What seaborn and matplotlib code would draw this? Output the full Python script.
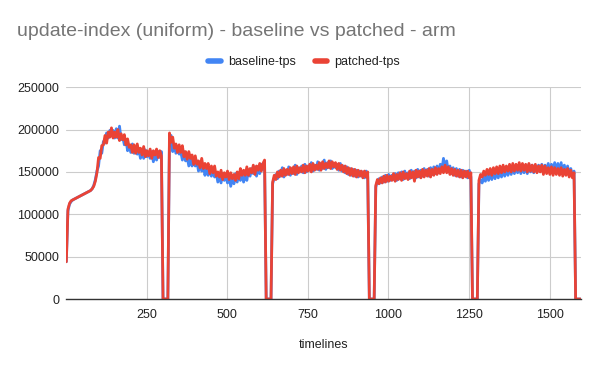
import numpy as np
import pandas as pd
import matplotlib
matplotlib.use("Agg")
import matplotlib.pyplot as plt
import seaborn as sns

timelines = list(range(1, 1600, 5))  # 320 samples

baseline_k = [
    # run 1
    44, 104, 112, 115, 117, 118, 119, 120, 121, 122,
    123, 124, 125, 126, 127, 128, 130, 134, 141, 151,
    157, 175, 172, 186, 184, 196, 190, 199, 194, 199,
    190, 201, 190, 204, 188, 191, 182, 188, 175, 181,
    173, 183, 172, 179, 171, 176, 166, 174, 166, 176,
    168, 173, 166, 174, 162, 171, 164, 174, 167, 174,
    0, 0, 0, 0,
    # run 2
    190, 193, 174, 181, 172, 180, 171, 174, 164, 174,
    163, 167, 157, 167, 157, 163, 157, 163, 151, 159,
    151, 158, 146, 153, 146, 155, 145, 152, 144, 149,
    138, 146, 137, 148, 140, 145, 137, 145, 133, 142,
    136, 148, 138, 147, 140, 147, 138, 148, 140, 152,
    145, 154, 148, 156, 145, 154, 148, 159, 153, 161,
    0, 0, 0, 0,
    # run 3
    136, 143, 147, 142, 151, 145, 155, 144, 152, 147,
    156, 146, 154, 148, 158, 147, 155, 150, 157, 149,
    159, 150, 157, 152, 161, 151, 158, 153, 162, 152,
    160, 154, 164, 153, 161, 155, 163, 154, 160, 155,
    159, 152, 160, 151, 157, 149, 156, 147, 154, 146,
    153, 145, 152, 144, 151, 145, 150, 143, 151, 144,
    0, 0, 0, 0,
    # run 4
    132, 139, 142, 137, 144, 138, 146, 139, 147, 140,
    146, 141, 148, 140, 149, 142, 150, 141, 151, 143,
    149, 142, 152, 144, 151, 143, 153, 144, 152, 145,
    154, 146, 153, 145, 155, 147, 156, 148, 157, 149,
    159, 152, 166, 155, 163, 150, 157, 148, 155, 146,
    154, 145, 153, 144, 152, 145, 151, 143, 152, 144,
    0, 0, 0, 0,
    # run 5
    136, 141, 137, 145, 139, 147, 140, 148, 141, 150,
    142, 151, 143, 152, 144, 153, 145, 154, 146, 155,
    147, 156, 148, 157, 149, 158, 148, 157, 149, 158,
    148, 159, 150, 158, 149, 157, 150, 158, 151, 159,
    150, 158, 151, 160, 150, 159, 152, 161, 151, 160,
    149, 161, 148, 158, 147, 157, 146, 154, 145, 151,
    0, 0, 0, 0,
]

patched_k = [
    # run 1
    44, 106, 113, 116, 117, 118, 119, 120, 121, 122,
    123, 124, 125, 126, 127, 128, 130, 133, 139, 149,
    167, 166, 181, 182, 193, 184, 197, 191, 202, 190,
    197, 191, 200, 187, 195, 188, 194, 182, 189, 179,
    182, 173, 182, 172, 183, 173, 178, 170, 180, 168,
    175, 169, 177, 166, 175, 170, 177, 167, 175, 169,
    0, 0, 0, 0,
    # run 2
    196, 185, 191, 178, 183, 173, 182, 173, 181, 168,
    174, 165, 174, 166, 170, 159, 169, 159, 163, 155,
    166, 154, 160, 154, 160, 148, 157, 149, 157, 145,
    150, 144, 152, 141, 149, 144, 151, 141, 149, 142,
    147, 140, 150, 142, 154, 146, 152, 146, 156, 146,
    154, 149, 158, 147, 157, 152, 160, 151, 160, 164,
    0, 0, 0, 0,
    # run 3
    138, 146, 141, 150, 144, 152, 145, 154, 146, 153,
    147, 155, 148, 156, 147, 157, 149, 155, 150, 158,
    149, 157, 151, 159, 150, 160, 152, 158, 153, 161,
    152, 162, 154, 160, 155, 163, 154, 162, 156, 161,
    153, 160, 152, 158, 150, 157, 148, 155, 146, 154,
    145, 153, 144, 152, 145, 151, 143, 151, 144, 150,
    0, 0, 0, 0,
    # run 4
    134, 141, 136, 143, 137, 145, 138, 146, 139, 145,
    140, 148, 139, 147, 141, 149, 140, 150, 142, 148,
    141, 151, 143, 150, 139, 152, 144, 151, 143, 153,
    144, 152, 145, 154, 144, 153, 146, 155, 147, 154,
    148, 156, 149, 158, 149, 156, 147, 154, 146, 153,
    145, 152, 144, 152, 143, 151, 144, 151, 143, 149,
    0, 0, 0, 0,
    # run 5
    140, 147, 144, 151, 146, 153, 147, 154, 146, 155,
    148, 156, 148, 157, 149, 158, 150, 157, 151, 159,
    150, 160, 151, 159, 152, 161, 151, 160, 152, 159,
    150, 160, 151, 158, 150, 159, 149, 157, 150, 158,
    147, 157, 148, 155, 147, 156, 146, 155, 147, 154,
    146, 155, 145, 153, 146, 154, 144, 152, 143, 149,
    0, 0, 0, 0,
]

series_names = ['baseline-tps', 'patched-tps']
series_colors = ['#4285F4', '#EA4335']
y_ticks = [0, 50000, 100000, 150000, 200000, 250000]
x_ticks = [250, 500, 750, 1000, 1250, 1500]

# ---- Long-form frame ----
df = pd.concat([
    pd.DataFrame({'timelines': timelines, 'tps': np.array(baseline_k) * 1000, 'series': series_names[0]}),
    pd.DataFrame({'timelines': timelines, 'tps': np.array(patched_k) * 1000, 'series': series_names[1]}),
], ignore_index=True)

# ---- Style ----
sns.set_theme(style="whitegrid")
plt.rcParams['font.family'] = ['Liberation Sans', 'DejaVu Sans']

fig = plt.figure(figsize=(6, 3.71), dpi=100)
ax = fig.add_axes([0.11, 0.194, 0.858, 0.571])

sns.lineplot(data=df, x='timelines', y='tps', hue='series', hue_order=series_names,
             palette=series_colors, linewidth=2.0, ax=ax)

ax.set_xlim(0, 1597)
ax.set_ylim(0, 250000)
ax.set_xticks(x_ticks)
ax.set_xticklabels([str(t) for t in x_ticks])
ax.set_yticks(y_ticks)
ax.set_yticklabels([str(t) for t in y_ticks])
ax.tick_params(axis='both', length=0, labelsize=9, labelcolor='#222222')
ax.tick_params(axis='x', pad=7)
ax.tick_params(axis='y', pad=5)
ax.grid(True, color='#cccccc', linewidth=0.8)
ax.set_facecolor('white')
for side in ['top', 'left', 'right']:
    ax.spines[side].set_visible(False)
ax.spines['bottom'].set_color('#333333')
ax.spines['bottom'].set_linewidth(1.0)
ax.set_ylabel('')
ax.set_xlabel('')

fig.text(0.54, 0.07, 'timelines', ha='center', va='center', fontsize=9, color='#222222')
fig.text(0.028, 0.914, 'update-index (uniform) - baseline vs patched - arm',
         ha='left', va='center', fontsize=14, color='#757575')

sns.move_legend(ax, 'center', bbox_to_anchor=(0.507, 0.833), bbox_transform=fig.transFigure,
                ncol=2, frameon=False, title=None, fontsize=9, handlelength=1.0,
                columnspacing=1.5, handletextpad=0.6)
leg = ax.get_legend()
for line in leg.get_lines():
    line.set_linewidth(4)
for txt in leg.get_texts():
    txt.set_color('#222222')

plt.savefig('out.png', dpi=100)
plt.close()
